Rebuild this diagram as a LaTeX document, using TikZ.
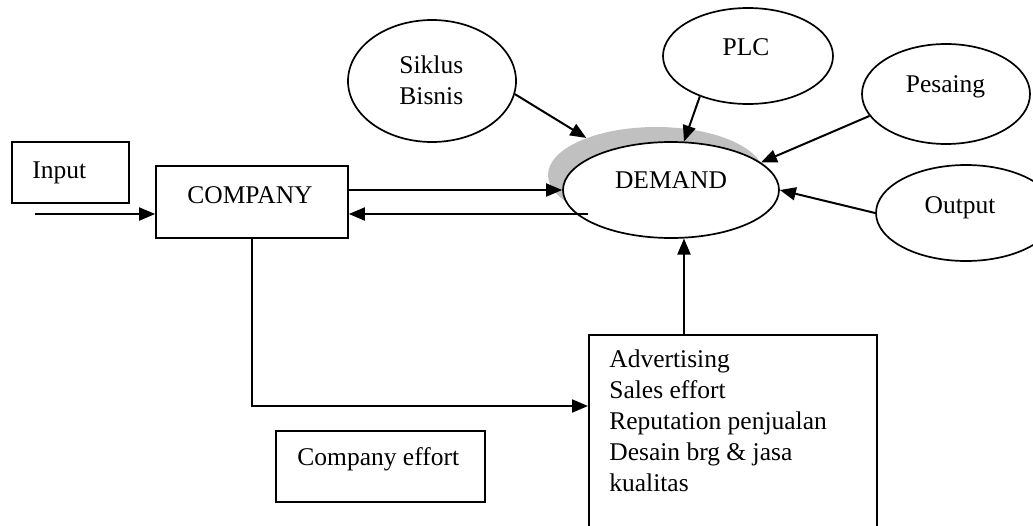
\documentclass[tikz,border=0pt]{standalone}
\usepackage{fontspec}
\setmainfont{Liberation Serif}
\usetikzlibrary{shapes.geometric,arrows.meta,calc}
\definecolor{shade}{RGB}{192,192,192}
\begin{document}
\begin{tikzpicture}[x=0.5pt,y=-0.5pt,
  txt/.style={inner sep=0pt, font=\fontsize{12.75pt}{15.5pt}\selectfont},
  box/.style={draw, line width=0.85pt, rectangle, inner sep=0pt, fill=white},
  oval/.style={draw, line width=0.85pt, ellipse, inner sep=0pt, fill=white},
  arr/.style={line width=1pt, -{Triangle[length=8pt,width=6.5pt]}}]
\useasboundingbox (0,0) rectangle (1033,525);

% demand oval with its grey shadow
\node[ellipse, fill=shade, inner sep=0pt, minimum width=108pt, minimum height=48pt] (glow) at (656,175) {};
\node[oval, minimum width=108pt, minimum height=48pt] (dem) at (671,190) {};
\node[txt, anchor=base] (demtxt) at (671,188) {DEMAND};

% outside influences
\node[oval, minimum width=84pt, minimum height=61pt] (sik) at (432,81) {};
\node[txt, anchor=north west, align=left] (siktxt) at (399,55) {Siklus\\Bisnis};
\node[oval, minimum width=85pt, minimum height=48pt] (plc) at (748,56) {};
\node[txt, anchor=base] (plctxt) at (746,55) {PLC};
\node[oval, minimum width=84pt, minimum height=50pt] (pes) at (946,94) {};
\node[txt, anchor=base] (pestxt) at (945.5,92) {Pesaing};
\node[oval, minimum width=90pt, minimum height=48pt] (outp) at (966,213) {};
\node[txt, anchor=base] (outtxt) at (960,213) {Output};

% boxes
\node[box, minimum width=58.5pt, minimum height=30.5pt] (inbox) at (70.5,172.5) {};
\node[txt, anchor=base west] (intxt) at (32,178) {Input};
\node[box, minimum width=96pt, minimum height=36pt] (comp) at (252,202) {};
\node[txt, anchor=base] (comptxt) at (250,203) {COMPANY};
\node[box, anchor=north west, minimum width=144pt, minimum height=100pt] (adv) at (588,334) {};
\node[txt, anchor=north west, align=left] (advtxt) at (609,349.6)
  {Advertising\\Sales effort\\Reputation penjualan\\Desain brg \& jasa\\kualitas};
\node[box, minimum width=104.5pt, minimum height=35.5pt] (eff) at (380.5,466.5) {};
\node[txt, anchor=base west] (efftxt) at (297,465) {Company effort};

% connectors
\draw[arr] (sik.-9.5) -- (glow.152);
\draw[arr] (plc.220) -- (dem.75);
\draw[arr] (pes.196) -- (dem.17);
\draw[arr] (outp.west) -- (dem.east);
\draw[arr] (comp.east |- dem.west) -- (dem.west);
\coordinate (ret) at (588,214);
\draw[arr] (ret) -- (ret -| comp.east);
\coordinate (src) at (35,214);
\draw[arr] (src) -- (src -| comp.west);
\coordinate (bend) at (252,406);
\draw[arr] (comp.south) -- (bend) -- (bend -| adv.west);
\draw[arr] (adv.north -| dem.-75) -- (dem.-75);
\end{tikzpicture}
\end{document}
